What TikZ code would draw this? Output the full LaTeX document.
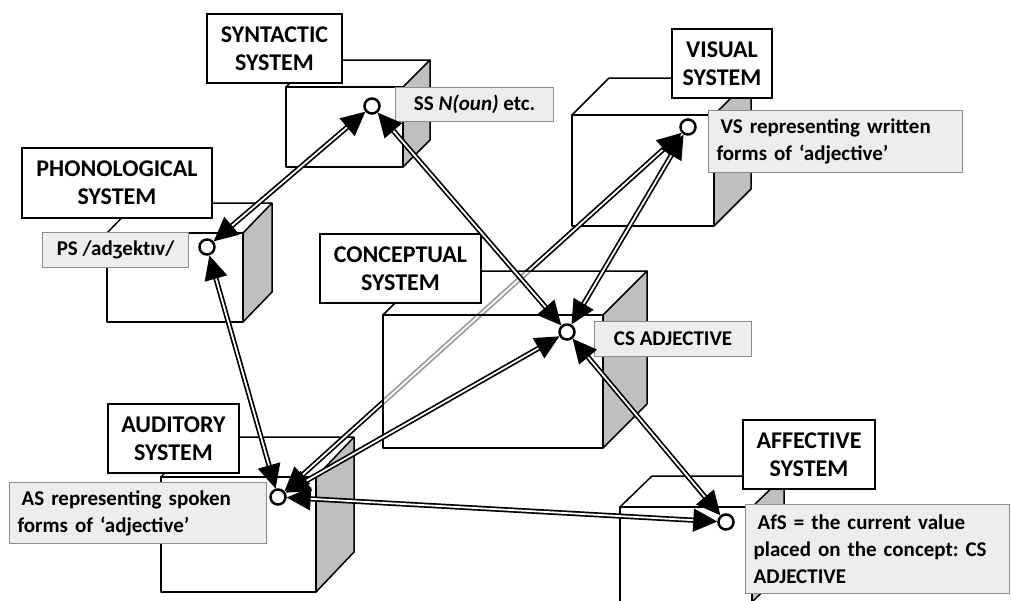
\documentclass[tikz,border=0pt]{standalone}
\usepackage{fontspec}
\setmainfont{Carlito}
\frenchspacing
\usetikzlibrary{arrows.meta}
\pgfdeclarelayer{back}
\pgfdeclarelayer{mid}
\pgfsetlayers{back,mid,main}
\tikzset{
 cubeline/.style={draw=black, line width=0.75pt, line join=round},
 sidegray/.style={fill=black!25},
 syslab/.style={draw=black, line width=1pt, fill=white, anchor=north west, align=center, inner sep=0pt, font=\fontsize{12}{14}\selectfont\bfseries},
 annot/.style={draw=black!45, line width=0.6pt, fill=black!7, anchor=north west, inner xsep=4pt, inner ysep=0pt, font=\fontsize{10.5}{13.5}\selectfont\bfseries},
 hub/.style={circle, draw=black, line width=1.25pt, fill=white, minimum size=7.5pt, inner sep=0pt},
 link/.style={draw=black, line width=0.85pt, double=white, double distance=0.9pt, {Triangle[length=12pt,width=11.5pt]}-{Triangle[length=12pt,width=11.5pt]}}
}
% front face x1 y1 x2 y2, depth dx dy, face opacity
\newcommand\mycube[7]{%
  \fill[white, fill opacity=#7] (#1,#2) rectangle (#3,#4);
  \fill[white, fill opacity=#7] (#1,#2) -- (#1+#5,#2-#6) -- (#3+#5,#2-#6) -- (#3,#2) -- cycle;
  \fill[sidegray] (#3,#2) -- (#3+#5,#2-#6) -- (#3+#5,#4-#6) -- (#3,#4) -- cycle;
  \draw[cubeline] (#1,#2) rectangle (#3,#4);
  \draw[cubeline] (#1,#2) -- (#1+#5,#2-#6) -- (#3+#5,#2-#6) -- (#3+#5,#4-#6) -- (#3,#4);
  \draw[cubeline] (#3,#2) -- (#3+#5,#2-#6);
}
\begin{document}
\begin{tikzpicture}[x=0.5pt,y=-0.5pt]
\useasboundingbox (0,0) rectangle (1011,600);
\clip (0,0) rectangle (1011,600);

% hubs
\node[hub] (ss) at (372,106) {};
\node[hub] (ps) at (207,247) {};
\node[hub] (vs) at (688,127) {};
\node[hub] (cs) at (567,332) {};
\node[hub] (as) at (278,497) {};
\node[hub] (afs) at (726,522) {};

\begin{pgfonlayer}{back}
\fill[white] (0,0) rectangle (1011,600);
\mycube{286}{87}{403}{167}{27}{27}{1}
\mycube{107}{233}{243}{322}{29}{30}{1}
\mycube{572}{115}{714}{226}{37}{37}{1}
\mycube{161}{477}{316}{592}{38}{40}{1}
\mycube{620}{507}{752}{602}{32}{31}{1}
\draw[link] (as) -- (vs);
\end{pgfonlayer}

\begin{pgfonlayer}{mid}
\mycube{383}{315}{603}{448}{44}{44}{0.6}
\end{pgfonlayer}

% system labels
\node[syslab, minimum width=67.5pt, minimum height=34.5pt] (synlab) at (206,13) {SYNTACTIC\\SYSTEM};
\node[syslab, minimum width=95pt, minimum height=35pt] (phonlab) at (21,147) {PHONOLOGICAL\\SYSTEM};
\node[syslab, minimum width=50pt, minimum height=34.5pt] (vislab) at (671,28) {VISUAL\\SYSTEM};
\node[syslab, minimum width=80.5pt, minimum height=34.5pt] (conclab) at (319,233) {CONCEPTUAL\\SYSTEM};
\node[syslab, minimum width=65.5pt, minimum height=34.5pt] (audlab) at (107,403) {AUDITORY\\SYSTEM};
\node[syslab, minimum width=66pt, minimum height=34.5pt] (afflab) at (742,419) {AFFECTIVE\\SYSTEM};

% annotations
\node[annot, align=center, minimum width=79pt, minimum height=17pt] (ssnote) at (395,87) {SS \textit{N(oun)} etc.};
\node[annot, align=center, minimum width=73pt, minimum height=17.5pt] (psnote) at (42,232) {PS /adʒektɪv/};
\node[annot, align=left, text width=119pt, minimum height=31pt] (vsnote) at (708,110) {\hspace{2pt}VS representing written\\forms of ‘adjective’};
\node[annot, align=center, minimum width=78.5pt, minimum height=17.5pt] (csnote) at (594,321) {CS ADJECTIVE};
\node[annot, align=left, text width=120.5pt, minimum height=30.5pt] (asnote) at (9,482) {\hspace{2pt}AS representing spoken\\forms of ‘adjective’};
\node[annot, align=left, text width=124pt, minimum height=44.5pt] (afsnote) at (745,504) {\hspace{2pt}AfS = the current value\\placed on the concept: CS\\ADJECTIVE};

% connectors
\draw[link] (ps) -- (ss);
\draw[link] (ss) -- (cs);
\draw[link] (ps) -- (as);
\draw[link] (vs) -- (cs);
\draw[link] (cs) -- (as);
\draw[link] (cs) -- (afs);
\draw[link] (as) -- (afs);
\end{tikzpicture}
\end{document}
